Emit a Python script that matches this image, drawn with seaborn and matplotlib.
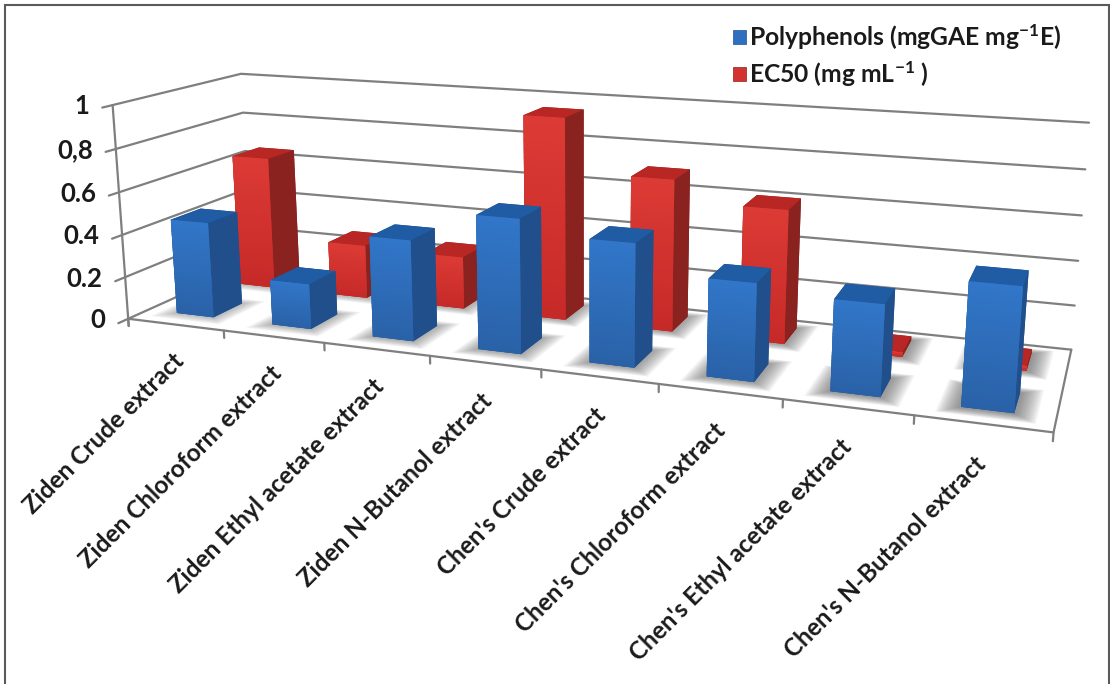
import numpy as np
import matplotlib
matplotlib.use("Agg")
import matplotlib.pyplot as plt
from matplotlib.patches import Patch, Rectangle
from mpl_toolkits.mplot3d import proj3d
from mpl_toolkits.mplot3d.art3d import Poly3DCollection
import seaborn as sns

# Extract labels and measured values
categories = ["Ziden Crude extract", "Ziden Chloroform extract", "Ziden Ethyl acetate extract",
              "Ziden N-Butanol extract", "Chen's Crude extract", "Chen's Chloroform extract",
              "Chen's Ethyl acetate extract", "Chen's N-Butanol extract"]
polyphenols = [0.45, 0.21, 0.46, 0.60, 0.54, 0.42, 0.385, 0.51]
ec50 = [0.65, 0.26, 0.25, 0.945, 0.70, 0.605, 0.02, 0.02]
z_ticks = [0, 0.2, 0.4, 0.6, 0.8, 1]
z_tick_labels = ["0", "0.2", "0.4", "0.6", "0,8", "1"]
series_labels = [r"Polyphenols (mgGAE mg$^{-1}$E)", r"EC50 (mg mL$^{-1}$ )"]

W, H = 1110, 684
GRID = "#7f7f7f"
TEXT = "#1a1a1a"

sns.set_theme(style="white")
plt.rcParams["font.family"] = ["Lato", "DejaVu Sans"]
plt.rcParams["font.weight"] = "bold"
plt.rcParams["mathtext.fontset"] = "custom"
plt.rcParams["mathtext.rm"] = "Lato:bold"
plt.rcParams["mathtext.bf"] = "Lato:bold"
plt.rcParams["mathtext.default"] = "rm"

# Face colours per series: gradient of the front face, then top and side
blue = dict(front=sns.blend_palette(["#2a62a8", "#3176c8"], 24), top="#1f5ca3", side="#214f8c")
red = dict(front=sns.blend_palette(["#c62a28", "#dc3a35"], 24), top="#b82723", side="#8a2320")

fig = plt.figure(figsize=(W / 100, H / 100), dpi=100, facecolor="white")
ax = fig.add_subplot(projection="3d", computed_zorder=False)
ax.set_position([91.2 / W, -35.2 / H, 961.3 / W, 961.3 / H])
ax.set_xlim(0, 8)
ax.set_ylim(0, 1)
ax.set_zlim(0, 1)
ax.set_box_aspect((8, 2.03, 1.94))
ax.set_proj_type("persp", focal_length=0.2994)
ax.view_init(13.74, -69.63, 0)
ax.set_axis_off()
ax.patch.set_alpha(0)
proj = ax.get_proj()


def screen(x, y, z):
    u, v, _ = proj3d.proj_transform(x, y, z, proj)
    return float(u), float(v)


# Back wall and side wall gridlines with their tick stubs
line = dict(color=GRID, lw=1.6, zorder=1, clip_on=False)
for z, lab in zip(z_ticks, z_tick_labels):
    ax.plot([0, 0, 8], [-0.07, 1, 1], [z, z, z], **line)
    ax.annotate(lab, xy=screen(0, 0, z), xytext=(-16.5, -1), textcoords="offset points", ha="right",
                va="center", fontsize=18.5, color=TEXT, fontweight="bold", zorder=20)
ax.plot([0, 0], [0, 0], [-0.035, 1], **line)

# Floor outline and category ticks
ax.plot([0, 8, 8], [0, 0, 1], [0, 0, 0], **line)
for i in range(9):
    ax.plot([i, i], [0, 0], [0, -0.035], **line)

BAR_W, BAR_D = 0.39, 0.23
FRONT_Y, BACK_Y = 0.15, 0.66


def floor_shadow(x, y, strength):
    # Soft shadow built from nested translucent floor patches
    for k in range(16):
        g = 0.17 - k * 0.01
        x0, x1 = x - g, x + BAR_W + g
        y0, y1 = y - g * 0.5, y + BAR_D + g * 0.4
        poly = Poly3DCollection([[(x0, y0, 0), (x1, y0, 0), (x1, y1, 0), (x0, y1, 0)]],
                                facecolor="#5a5a5a", edgecolor="none", alpha=strength, zorder=2)
        ax.add_collection3d(poly)
        poly.set_clip_on(False)


def column(x, y, h, faces, zorder):
    # One solid block, then strips laid over its front face for a vertical gradient
    cols = [faces["top"], faces["top"], faces["front"][0], faces["side"], faces["side"], faces["side"]]
    ax.bar3d(x, y, 0, BAR_W, BAR_D, h, color=cols, shade=False, edgecolor="none", zorder=zorder)
    edges = np.linspace(0, h, len(faces["front"]) + 1)
    for k, col in enumerate(faces["front"]):
        top = min(edges[k + 1] + 0.006, h)
        strip = Poly3DCollection([[(x, y, edges[k]), (x + BAR_W, y, edges[k]), (x + BAR_W, y, top), (x, y, top)]],
                                 facecolor=col, edgecolor="none", zorder=zorder + 0.001 * (k + 1))
        ax.add_collection3d(strip)


for i in range(len(categories)):
    cx = i + 0.5 - BAR_W / 2
    floor_shadow(cx, BACK_Y, 0.026 + 0.004 * i)
    floor_shadow(cx, FRONT_Y, 0.026 + 0.004 * i)

for i, e in enumerate(ec50):
    column(i + 0.5 - BAR_W / 2, BACK_Y, e, red, 3 + i * 0.05)
for i, p in enumerate(polyphenols):
    column(i + 0.5 - BAR_W / 2, FRONT_Y, p, blue, 4 + i * 0.05)

# Category labels run up towards the floor edge at 45 degrees
for i, name in enumerate(categories):
    ax.annotate(name, xy=screen(i + 0.45, 0, -0.12), rotation=45, ha="right", va="top",
                rotation_mode="anchor", fontsize=17.5, color=TEXT, fontweight="bold", zorder=20)

handles = [Patch(facecolor="#2f6fc0", edgecolor="#24548f", lw=0.5),
           Patch(facecolor="#d4322e", edgecolor="#8a2320", lw=0.5)]
fig.legend(handles, series_labels, loc="upper left", bbox_to_anchor=(733 / W, 1 - 22 / H), frameon=False,
           borderpad=0, borderaxespad=0, handlelength=0.53, handleheight=0.53, handletextpad=0.13,
           labelspacing=0.3, prop=dict(family="Lato", weight="bold", size=17.7), labelcolor=TEXT)

# Thin frame round the top and sides of the figure
fig.add_artist(Rectangle((5 / W, -0.02), (W - 6) / W, 1 + 0.02 - 5 / H, transform=fig.transFigure,
                         fill=False, edgecolor="#5a5a5a", lw=1.5))

fig.savefig("out.png", dpi=100, facecolor="white")
